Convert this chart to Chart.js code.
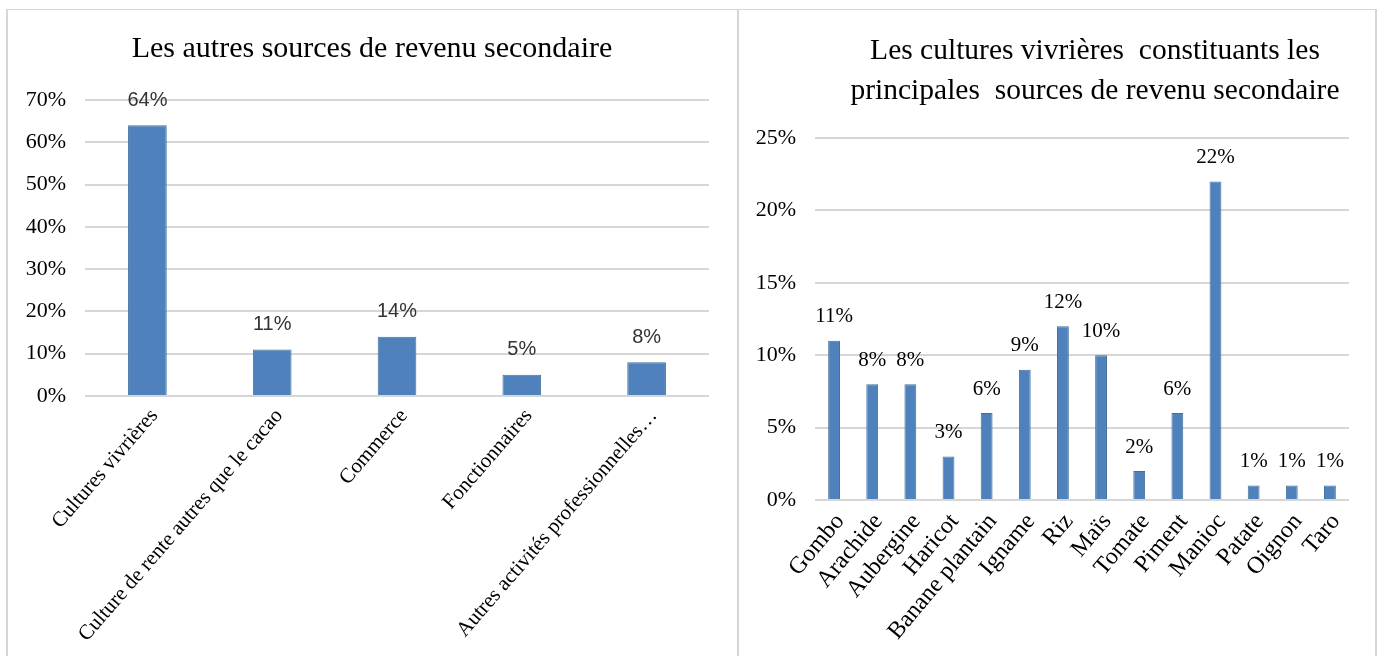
<!DOCTYPE html>
<html>
<head>
<meta charset="utf-8">
<script src="https://cdn.jsdelivr.net/npm/chart.js@4.4.1/dist/chart.umd.min.js"></script>
<style>
  html, body { margin: 0; padding: 0; background: #fff; width: 1377px; height: 656px; overflow: hidden; position: relative; }
  .panel { position: absolute; top: 9px; box-sizing: border-box; background: #fff; border-top: 1px solid #d6d6d6; }
  #p1 { left: 6px; width: 733px; height: 660px; border-left: 2px solid #d6d6d6; border-right: 2px solid #d6d6d6; }
  #p2 { left: 739px; width: 638px; height: 660px; border-right: 2px solid #d6d6d6; }
  canvas { display: block; }
</style>
</head>
<body>
<div class="panel" id="p1"><canvas id="c1" width="729" height="646" style="width:729px;height:646px"></canvas></div>
<div class="panel" id="p2"><canvas id="c2" width="636" height="646" style="width:636px;height:646px"></canvas></div>
<script>
// ---------- DATA ----------
const leftTitle = ["Les autres sources de revenu secondaire"];
const leftCategories = ["Cultures vivrières", "Culture de rente autres que le cacao", "Commerce", "Fonctionnaires", "Autres activités professionnelles…"];
const leftValues = [64, 11, 14, 5, 8];
const leftTicks = [0, 10, 20, 30, 40, 50, 60, 70];

const rightTitle = ["Les cultures vivrières  constituants les", "principales  sources de revenu secondaire"];
const rightCategories = ["Gombo", "Arachide", "Aubergine", "Haricot", "Banane plantain", "Igname", "Riz", "Maïs", "Tomate", "Piment", "Manioc", "Patate", "Oignon", "Taro"];
const rightValues = [11, 8, 8, 3, 6, 9, 12, 10, 2, 6, 22, 1, 1, 1];
const rightTicks = [0, 5, 10, 15, 20, 25];

// ---------- STYLE ----------
const SERIF = "'Liberation Serif', 'Times New Roman', serif";
const NARROW = "'Liberation Sans Narrow', 'Liberation Sans', Arial, sans-serif";
const BAR = '#4f81bd';
const BAR_EDGE = '#41719c';
const GRID = '#d6d6d6';

const titlePlugin = {
  id: 'panelTitle',
  afterDraw(chart, args, opts) {
    const ctx = chart.ctx;
    ctx.save();
    ctx.font = opts.font;
    ctx.fillStyle = opts.color;
    ctx.textAlign = 'center';
    ctx.textBaseline = 'middle';
    opts.lines.forEach((t, i) => ctx.fillText(t, opts.x, opts.y + i * opts.lineGap));
    ctx.restore();
  }
};

const valueLabelPlugin = {
  id: 'valueLabels',
  afterDatasetsDraw(chart, args, opts) {
    const ctx = chart.ctx;
    ctx.save();
    ctx.font = opts.font;
    ctx.fillStyle = opts.color;
    ctx.textAlign = 'center';
    ctx.textBaseline = 'middle';
    const meta = chart.getDatasetMeta(0);
    const data = chart.data.datasets[0].data;
    meta.data.forEach((bar, i) => {
      ctx.fillText(data[i] + '%', bar.x, bar.y - opts.offset);
    });
    ctx.restore();
  }
};

function makeChart(id, cfg) {
  return new Chart(document.getElementById(id), {
    type: 'bar',
    data: {
      labels: cfg.categories,
      datasets: [{
        data: cfg.values,
        backgroundColor: BAR,
        borderColor: BAR_EDGE,
        borderWidth: 1,
        categoryPercentage: 1,
        barPercentage: cfg.barPct
      }]
    },
    plugins: [titlePlugin, valueLabelPlugin],
    options: {
      responsive: false,
      animation: false,
      events: [],
      layout: { padding: { left: 0, right: cfg.padRight, top: cfg.plotTop, bottom: 0 } },
      plugins: {
        legend: { display: false },
        title: { display: false },
        tooltip: { enabled: false },
        panelTitle: { lines: cfg.title, font: cfg.titleFont + ' ' + SERIF, color: '#000', x: cfg.titleX, y: cfg.titleY, lineGap: 40 },
        valueLabels: { font: cfg.labelFont, color: cfg.labelColor, offset: cfg.labelOffset }
      },
      scales: {
        x: {
          grid: { display: false, drawTicks: false },
          border: { display: false },
          ticks: {
            autoSkip: false,
            maxRotation: cfg.rot, minRotation: cfg.rot,
            padding: cfg.xPad,
            labelOffset: cfg.xLabelOffset,
            color: '#000',
            font: { family: SERIF, size: cfg.xFont }
          },
          afterFit(scale) { scale.height = cfg.xHeight; }
        },
        y: {
          min: 0,
          max: cfg.ticks[cfg.ticks.length - 1],
          afterBuildTicks(scale) { scale.ticks = cfg.ticks.map(v => ({ value: v })); },
          grid: { color: GRID, lineWidth: 2, drawTicks: false },
          border: { display: false },
          ticks: {
            padding: 19,
            color: '#000',
            font: { family: SERIF, size: 22 },
            callback: v => v + '%'
          },
          afterFit(scale) { scale.width = cfg.yWidth; }
        }
      }
    }
  });
}

makeChart('c1', {
  categories: leftCategories, values: leftValues, ticks: leftTicks, title: leftTitle,
  barPct: 0.31, padRight: 28, plotTop: 90, yWidth: 77, xHeight: 260,
  titleFont: '30px', titleX: 364, titleY: 39, rot: 49, xPad: 8, xLabelOffset: 7, xFont: 21,
  labelFont: '20px ' + NARROW, labelColor: '#333', labelOffset: 25
});

makeChart('c2', {
  categories: rightCategories, values: rightValues, ticks: rightTicks, title: rightTitle,
  barPct: 0.31, padRight: 26, plotTop: 128, yWidth: 76, xHeight: 156,
  titleFont: '29.5px', titleX: 356, titleY: 41, rot: 50, xPad: 8, xLabelOffset: 6, xFont: 24,
  labelFont: '21px ' + SERIF, labelColor: '#000', labelOffset: 24
});
</script>
</body>
</html>
